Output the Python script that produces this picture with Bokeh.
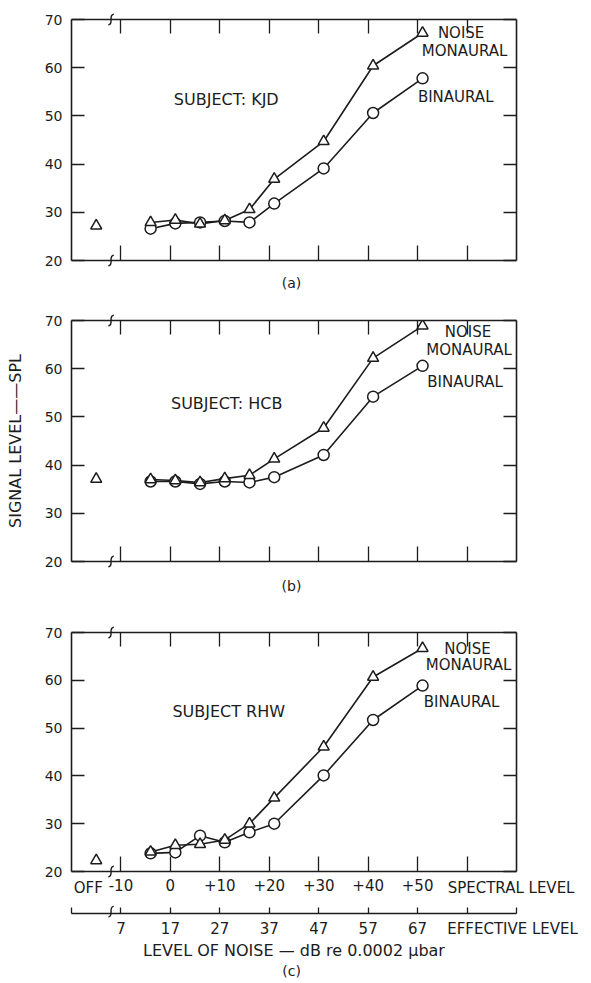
from bokeh.plotting import figure
from bokeh.models import LinearAxis, FixedTicker, Range1d
from bokeh.layouts import column
from bokeh.embed import file_html
from bokeh.resources import INLINE
from bokeh.core.properties import value

# ---------------- data ----------------
noise_spectral = [-4, 1, 6, 11, 16, 21, 31, 41, 51]   # spectral level of noise, dB
off_position = -15                                    # "OFF" (no noise) column

kjd_monaural = [27.9, 28.4, 27.6, 28.3, 30.6, 36.9, 44.7, 60.4, 67.2]
kjd_binaural = [26.6, 27.7, 27.9, 28.2, 27.9, 31.8, 39.1, 50.6, 57.8]
kjd_off = 27.2

hcb_monaural = [37.0, 36.8, 36.4, 37.2, 37.9, 41.3, 47.7, 62.2, 68.9]
hcb_binaural = [36.6, 36.6, 36.1, 36.6, 36.4, 37.5, 42.1, 54.2, 60.6]
hcb_off = 37.1

rhw_monaural = [24.1, 25.5, 25.7, 26.6, 30.0, 35.4, 46.1, 60.7, 66.7]
rhw_binaural = [23.8, 24.0, 27.5, 26.1, 28.2, 30.0, 40.1, 51.7, 58.9]
rhw_off = 22.3

spectral_ticks = [-10, 0, 10, 20, 30, 40, 50, 60]
spectral_labels = ["-10", "0", "+10", "+20", "+30", "+40", "+50", ""]
effective_ticks = [-20, -10, 0, 10, 20, 30, 40, 50, 60, 70]
effective_labels = ["", "7", "17", "27", "37", "47", "57", "67", "", ""]
signal_ticks = [20, 30, 40, 50, 60, 70]
signal_labels = ["20", "30", "40", "50", "60", "70"]

subjects = ["SUBJECT: KJD", "SUBJECT: HCB", "SUBJECT RHW"]
panel_tags = ["(a)", "(b)", "(c)"]

FONT = "DejaVu Sans"
INK = "#1c1c1c"
X_RANGE = (-20, 70)
Y_RANGE = (20, 70)
BREAK_X = -12


def blank(ticks):
    return {t: "" for t in ticks}


def edge_axis(ticks, tick_len):
    return LinearAxis(
        ticker=FixedTicker(ticks=ticks, minor_ticks=[]),
        major_label_overrides=blank(ticks),
        major_label_standoff=0,
        major_tick_in=tick_len, major_tick_out=0,
        minor_tick_in=0, minor_tick_out=0,
        axis_line_color=INK, axis_line_width=1.6,
        major_tick_line_color=INK, major_tick_line_width=1.3,
    )


def add_break(p, y_edge):
    p.bezier(x0=[BREAK_X - 0.55], y0=[y_edge - 1.1], x1=[BREAK_X + 0.55], y1=[y_edge + 1.1],
             cx0=[BREAK_X + 0.7], cy0=[y_edge - 1.0], cx1=[BREAK_X - 0.7], cy1=[y_edge + 1.0],
             line_color=INK, line_width=1.4, level="overlay")


def outside_text(p, x, y, txt, align="center", size="15px"):
    p.text(x=[x], y=[y], text=[txt], text_font=value(FONT), text_font_size=size,
           text_color=INK, text_align=align, text_baseline="middle", level="overlay")


def panel(idx, monaural, binaural, off_val, border_top, frame_h, border_bottom,
          subject_xy, noise_xy, mon_xy, bin_xy, tag_y):
    p = figure(frame_width=445, frame_height=frame_h,
               x_range=Range1d(*X_RANGE), y_range=Range1d(*Y_RANGE),
               x_axis_location=None, y_axis_location=None,
               min_border_left=71, min_border_right=74,
               min_border_top=border_top, min_border_bottom=border_bottom,
               output_backend="svg", toolbar_location=None)
    p.outline_line_color = None
    p.grid.visible = False
    p.background_fill_color = "white"
    p.border_fill_color = "white"

    left = LinearAxis(
        ticker=FixedTicker(ticks=signal_ticks, minor_ticks=[]),
        major_label_overrides={t: l for t, l in zip(signal_ticks, signal_labels)},
        major_label_standoff=9,
        major_tick_in=13, major_tick_out=0, minor_tick_in=0, minor_tick_out=0,
        axis_line_color=INK, axis_line_width=1.6,
        major_tick_line_color=INK, major_tick_line_width=1.3,
        major_label_text_font=FONT, major_label_text_font_size="14px",
        major_label_text_color=INK,
    )
    if idx == 1:
        left.axis_label = "SIGNAL LEVEL\u2014\u2014SPL"
        left.axis_label_text_font = FONT
        left.axis_label_text_font_size = "16px"
        left.axis_label_text_font_style = "normal"
        left.axis_label_text_color = INK
        left.axis_label_standoff = 17
    p.add_layout(left, "left")
    p.add_layout(edge_axis(signal_ticks, 13), "right")
    p.add_layout(edge_axis(spectral_ticks, 14), "above")

    if idx < 2:
        p.add_layout(edge_axis(spectral_ticks, 15), "below")
    else:
        spec = LinearAxis(
            ticker=FixedTicker(ticks=spectral_ticks, minor_ticks=[]),
            major_label_overrides={t: l for t, l in zip(spectral_ticks, spectral_labels)},
            major_label_standoff=7,
            major_tick_in=15, major_tick_out=0, minor_tick_in=0, minor_tick_out=0,
            axis_line_color=INK, axis_line_width=1.6,
            major_tick_line_color=INK, major_tick_line_width=1.3,
            major_label_text_font=FONT, major_label_text_font_size="15px",
            major_label_text_color=INK,
        )
        p.add_layout(spec, "below")
        spacer = LinearAxis(
            ticker=FixedTicker(ticks=[0], minor_ticks=[]),
            major_label_overrides={0: ""}, major_label_standoff=0,
            major_tick_in=0, major_tick_out=20,
            major_tick_line_color=None, axis_line_color=None,
        )
        p.add_layout(spacer, "below")
        eff = LinearAxis(
            ticker=FixedTicker(ticks=effective_ticks, minor_ticks=[]),
            major_label_overrides={t: l for t, l in zip(effective_ticks, effective_labels)},
            major_label_standoff=8,
            major_tick_in=6, major_tick_out=0, minor_tick_in=0, minor_tick_out=0,
            axis_line_color=INK, axis_line_width=1.6,
            major_tick_line_color=INK, major_tick_line_width=1.3,
            major_label_text_font=FONT, major_label_text_font_size="15px",
            major_label_text_color=INK,
            axis_label="LEVEL OF NOISE \u2014 dB re 0.0002 \u03bcbar",
            axis_label_text_font=FONT, axis_label_text_font_size="16px",
            axis_label_text_font_style="normal", axis_label_text_color=INK,
            axis_label_standoff=4,
        )
        p.add_layout(eff, "below")
        outside_text(p, -16.6, 16.6, "OFF")
        outside_text(p, 68.9, 16.6, "SPECTRAL LEVEL")
        outside_text(p, 69.2, 8.0, "EFFECTIVE LEVEL")
        add_break(p, 11.6)

    # break marks on the frame edges
    add_break(p, Y_RANGE[0])
    add_break(p, Y_RANGE[1])

    # series
    p.line(noise_spectral, monaural, line_color=INK, line_width=1.6)
    p.line(noise_spectral, binaural, line_color=INK, line_width=1.6)
    p.scatter(noise_spectral, binaural, marker="circle", size=11,
              fill_color="white", line_color=INK, line_width=1.5)
    p.scatter(noise_spectral, monaural, marker="triangle", size=11,
              fill_color="white", line_color=INK, line_width=1.5)
    p.scatter([off_position], [off_val], marker="triangle", size=11,
              fill_color="white", line_color=INK, line_width=1.5)

    # in-frame texts
    p.text(x=[subject_xy[0]], y=[subject_xy[1]], text=[subjects[idx]],
           text_font=value(FONT), text_font_size="16px", text_color=INK,
           text_align="center", text_baseline="middle")
    p.text(x=[noise_xy[0], mon_xy[0], bin_xy[0]],
           y=[noise_xy[1], mon_xy[1], bin_xy[1]],
           text=["NOISE", "MONAURAL", "BINAURAL"],
           text_font=value(FONT), text_font_size="15px", text_color=INK,
           text_align="center", text_baseline="middle")

    outside_text(p, 24.5, tag_y, panel_tags[idx], size="14px")
    return p


p1 = panel(0, kjd_monaural, kjd_binaural, kjd_off, 19, 241, 48,
           (11.3, 53.3), (58.8, 67.2), (59.5, 63.4), (57.7, 53.9), 15.4)
p2 = panel(1, hcb_monaural, hcb_binaural, hcb_off, 12, 241, 59,
           (11.4, 52.7), (60.2, 67.6), (60.4, 63.9), (59.6, 57.3), 15.0)
p3 = panel(2, rhw_monaural, rhw_binaural, rhw_off, 12, 239, 111,
           (11.8, 53.5), (60.1, 66.5), (60.3, 63.2), (58.9, 55.5), -0.9)

layout = column(p1, p2, p3, spacing=0)
open("out.html", "w").write(file_html(layout, INLINE))
